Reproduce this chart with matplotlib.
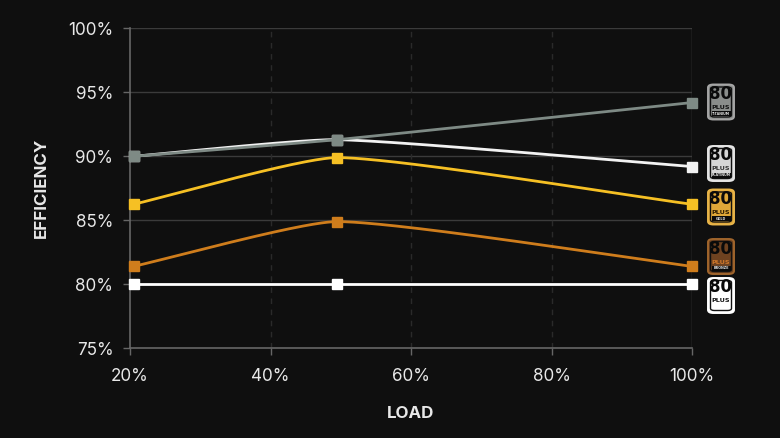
import numpy as np
import matplotlib
matplotlib.use("Agg")
import matplotlib.pyplot as plt
from matplotlib.patches import FancyBboxPatch, Rectangle

# ---- data ----
load = [20.5, 49.5, 100]
titanium = [90.0, 91.3, 94.2]
platinum = [90.0, 91.3, 89.2]
gold = [86.25, 89.9, 86.25]
bronze = [81.4, 84.9, 81.4]
standard = [80.0, 80.0, 80.0]

series_names = ["STANDARD", "BRONZE", "GOLD", "PLATINUM", "TITANIUM"]
series_vals = [standard, bronze, gold, platinum, titanium]
series_colors = ["#ffffff", "#cf7d1c", "#f6c024", "#f2f2f2", "#7e8a85"]

x_ticks = [20, 40, 60, 80, 100]
x_tick_labels = ["20%", "40%", "60%", "80%", "100%"]
y_ticks = [75, 80, 85, 90, 95, 100]
y_tick_labels = ["75%", "80%", "85%", "90%", "95%", "100%"]

BG = "#0f0f0f"
TXT = "#e8e8e8"
FONT = ["Inter", "DejaVu Sans"]
NARROW = ["Liberation Sans Narrow", "DejaVu Sans"]

fig = plt.figure(figsize=(7.8, 4.38), dpi=100, facecolor=BG)
ax = fig.add_axes([130 / 780, (438 - 348.3) / 438, 562 / 780, 320 / 438], facecolor=BG)
ax.set_xlim(20, 100)
ax.set_ylim(75, 100)


def spline(xs, ys, tension=0.17, n=80):
    """Chart.js-style cardinal bezier, computed in pixel space."""
    pts = ax.transData.transform(np.column_stack([xs, ys]))
    k = len(pts)
    cp_prev, cp_next = [], []
    for i in range(k):
        p0 = pts[max(i - 1, 0)]
        p1 = pts[i]
        p2 = pts[min(i + 1, k - 1)]
        d01 = np.hypot(*(p1 - p0))
        d12 = np.hypot(*(p2 - p1))
        tot = d01 + d12
        s01 = d01 / tot if tot else 0
        s12 = d12 / tot if tot else 0
        cp_prev.append(p1 - tension * s01 * (p2 - p0))
        cp_next.append(p1 + tension * s12 * (p2 - p0))
    out = []
    t = np.linspace(0, 1, n)[:, None]
    for i in range(k - 1):
        a, b, c, d = pts[i], cp_next[i], cp_prev[i + 1], pts[i + 1]
        seg = ((1 - t) ** 3) * a + 3 * ((1 - t) ** 2) * t * b + 3 * (1 - t) * t**2 * c + t**3 * d
        out.append(seg)
    out = np.vstack(out)
    data = ax.transData.inverted().transform(out)
    return data[:, 0], data[:, 1]


for y in y_ticks[1:]:
    ax.axhline(y, color="#3b3b3b", lw=1, zorder=1)
for x in x_ticks[1:-1]:
    ax.axvline(x, color="#2a2a2a", lw=1, ls=(0, (4, 4)), zorder=1)
ax.axvline(100, color="#4a4a4a", lw=1, zorder=1)

for s in ["top", "right"]:
    ax.spines[s].set_visible(False)
for s in ["left", "bottom"]:
    ax.spines[s].set_color("#666666")
    ax.spines[s].set_linewidth(1.2)

ax.set_xticks(x_ticks)
ax.set_xticklabels(x_tick_labels)
ax.set_yticks(y_ticks)
ax.set_yticklabels(y_tick_labels)
ax.tick_params(colors="#666666", length=5, width=1, labelcolor=TXT, labelsize=12.3)
ax.tick_params(axis="y", pad=7)
ax.tick_params(axis="x", pad=9)
for lab in ax.get_xticklabels() + ax.get_yticklabels():
    lab.set_family(FONT)

ax.set_xlabel("LOAD", color=TXT, fontsize=12.2, fontweight="bold", family=FONT, labelpad=15)
ax.set_ylabel("EFFICIENCY", color=TXT, fontsize=12.2, fontweight="bold", family=FONT, labelpad=14)

for i, (name, vals, col) in enumerate(zip(series_names, series_vals, series_colors)):
    sx, sy = spline(load, vals)
    ax.plot(sx, sy, color=col, lw=2, zorder=3 + i, solid_capstyle="round", clip_on=False)
    ax.plot(load, vals, ls="none", marker="s", ms=7.5, color=col, zorder=3 + i, clip_on=False)

# ---- 80 PLUS badges ----
badge_styles = {
    "TITANIUM": dict(fill="#8a8d8b", edge="#a6a6a6", plus="#111111", center=102),
    "PLATINUM": dict(fill="#d6d6d6", edge="#e6e6e6", plus="#333333", center=163.5),
    "GOLD": dict(fill="#dfa738", edge="#e8b54a", plus="#2a1a00", center=207),
    "BRONZE": dict(fill="#6e4220", edge="#a0652c", plus="#d0782a", center=256.5),
    "STANDARD": dict(fill="#ffffff", edge="#ffffff", plus="#111111", center=295.5),
}
W, H = 780, 438
bw, bh = 26, 35
for name, st in badge_styles.items():
    cx = 721
    cy = st["center"]
    x0 = (cx - bw / 2) / W
    y0 = (H - cy - bh / 2) / H
    p = FancyBboxPatch((x0, y0), bw / W, bh / H,
                       boxstyle="round,pad=0,rounding_size=0.007",
                       transform=fig.transFigure, facecolor=st["fill"],
                       edgecolor=st["edge"], lw=1.4, zorder=10)
    fig.patches.append(p)
    inner = FancyBboxPatch((x0 + 2.5 / W, y0 + 2.5 / H), (bw - 5) / W, (bh - 5) / H,
                           boxstyle="round,pad=0,rounding_size=0.005",
                           transform=fig.transFigure, facecolor="none",
                           edgecolor="#111111", lw=1.0, zorder=11)
    fig.patches.append(inner)
    fig.text(cx / W, (H - cy + 3) / H, "80", ha="center", va="baseline",
             fontsize=12, color="#0a0a0a", family=NARROW,
             fontweight="bold", zorder=12)
    fig.text(cx / W, (H - cy - 7) / H, "PLUS", ha="center", va="baseline",
             fontsize=4.6, color=st["plus"], fontweight="bold",
             family=NARROW, zorder=12)
    if name != "STANDARD":
        fig.patches.append(Rectangle(((cx - 9.5) / W, (H - cy - 14) / H), 19 / W, 4.8 / H,
                                     transform=fig.transFigure, facecolor="#0a0a0a",
                                     edgecolor="none", zorder=12))
        fig.text(cx / W, (H - cy - 12.8) / H, name, ha="center", va="baseline",
                 fontsize=2.4, color="#dddddd", fontweight="bold",
                 family=NARROW, zorder=13)

fig.savefig("out.png", dpi=100, facecolor=BG)
